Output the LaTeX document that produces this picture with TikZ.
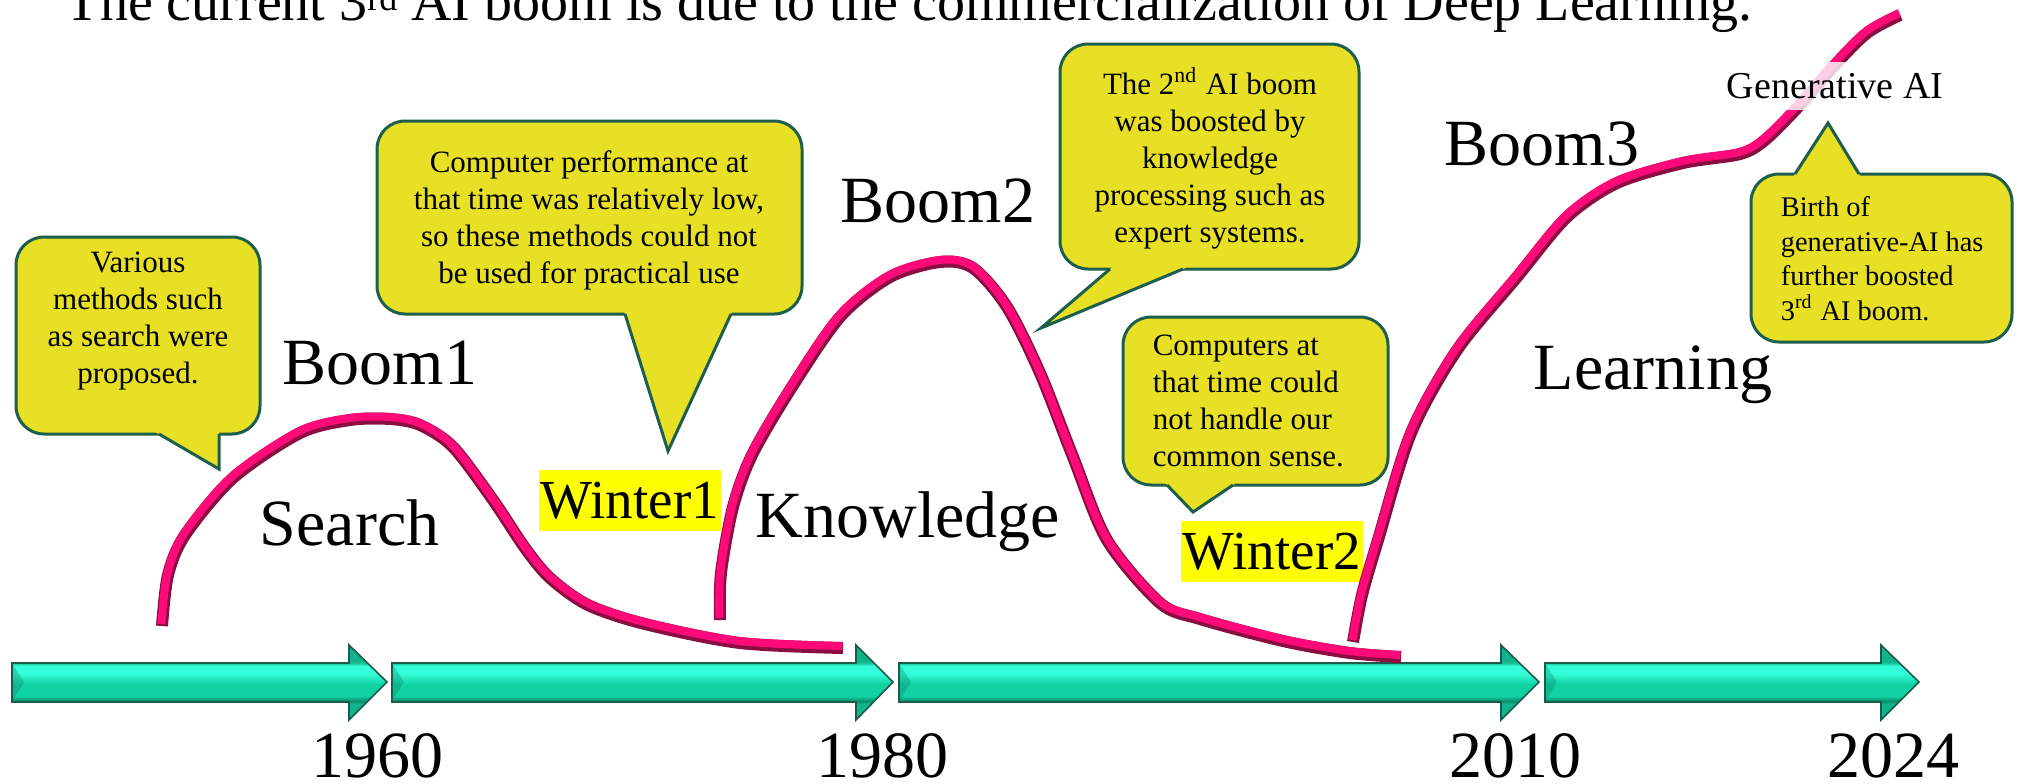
\documentclass[tikz,border=0pt]{standalone}
\usepackage{fontspec}
\setmainfont{Liberation Serif}
\definecolor{cfillc}{HTML}{E8E024}
\definecolor{cedgec}{HTML}{1E5E4C}
\definecolor{pinkm}{HTML}{FF0A78}
\definecolor{pinkd}{HTML}{8A0E42}
\definecolor{arrD}{HTML}{0A8A6A}
\definecolor{arrB}{HTML}{10D2A3}
\definecolor{arrL}{HTML}{35FFDA}
\definecolor{arrT}{HTML}{17C49C}
\definecolor{arrO}{HTML}{0FB48B}
\definecolor{arredge}{HTML}{1D5A4A}
\definecolor{hl}{HTML}{FFFF00}
\pgfdeclareverticalshading{arrsh}{100bp}{color(0bp)=(arrO); color(36bp)=(arrO); color(37.5bp)=(arrD); color(41bp)=(arrB); color(49bp)=(arrB); color(56bp)=(arrL); color(61bp)=(arrL); color(63bp)=(arrT); color(64bp)=(arrO); color(100bp)=(arrO)}
\begin{document}
\begin{tikzpicture}[x=0.25pt,y=-0.25pt,
  cbox/.style={fill=cfillc, draw=cedgec, line width=0.75pt, rounded corners=7pt},
  ctail/.style={fill=cfillc},
  cedge/.style={draw=cedgec, line width=0.75pt, line join=miter},
  ctext/.style={inner sep=0, font=\fontsize{7.75}{9.25}\selectfont},
  ctextb/.style={inner sep=0, font=\fontsize{7.1}{8.6}\selectfont},
  big/.style={inner sep=0, anchor=base west, font=\fontsize{16.5}{19}\selectfont},
  wint/.style={anchor=base west, fill=hl, inner xsep=0.5pt, inner ysep=0, text height=12pt, text depth=3.25pt, font=\fontsize{13.75}{16}\selectfont},
  year/.style={anchor=base, inner sep=0, font=\fontsize{16.5}{19}\selectfont},
  tlarrow/.style={draw=arredge, line width=0.4pt, shade, shading=arrsh},
  bevel/.style={fill=arrD, fill opacity=0.35},
  tubeD/.style={draw=pinkd, line width=3pt},
  tubeL/.style={draw=pinkm, line width=2pt, yshift=0.5pt, xshift=-0.15pt},
]
\fill[white] (0,0) rectangle (2033,783);
\useasboundingbox (0,0) rectangle (2033,783);

% title
\node[anchor=base west, inner sep=0, font=\fontsize{14}{17}\selectfont] (title) at (65,20) {The current 3\raisebox{2.5pt}{\fontsize{9}{10}\selectfont rd} AI boom is due to the commercialization of Deep Learning.};

% timeline arrows
\path[tlarrow] (12,663) -- (349,663) -- (349,645) -- (387,682) -- (349,720) -- (349,702) -- (12,702) -- cycle;
\fill[bevel] (12.5,664) -- (24,682) -- (12.5,701) -- cycle;
\path[tlarrow] (392,663) -- (856,663) -- (856,645) -- (893,682) -- (856,720) -- (856,702) -- (392,702) -- cycle;
\fill[bevel] (392.5,664) -- (404,682) -- (392.5,701) -- cycle;
\path[tlarrow] (899,663) -- (1501,663) -- (1501,645) -- (1539,682) -- (1501,720) -- (1501,702) -- (899,702) -- cycle;
\fill[bevel] (899.5,664) -- (911,682) -- (899.5,701) -- cycle;
\path[tlarrow] (1545,663) -- (1881,663) -- (1881,645) -- (1919,682) -- (1881,720) -- (1881,702) -- (1545,702) -- cycle;
\fill[bevel] (1545.5,664) -- (1557,682) -- (1545.5,701) -- cycle;

% years
\node[year] (y1960) at (377,777) {1960};
\node[year] (y1980) at (882,777) {1980};
\node[year] (y2010) at (1515,777) {2010};
\node[year] (y2024) at (1893,777) {2024};

% big labels
\node[big] (boom1) at (282,384) {Boom1};
\node[big] (search) at (259,545) {Search};
\node[big] (boom2) at (840,222) {Boom2};
\node[big] (know) at (755,537) {Knowledge};
\node[big] (boom3) at (1444,165) {Boom3};
\node[big] (learn) at (1533,389) {Learning};
\node[wint] (w1) at (538,518) {Winter1};
\node[wint] (w2) at (1180,569) {Winter2};

% curves
\draw[tubeD] plot[smooth] coordinates {(162,626) (168,575) (185,535) (233,478) (300,433) (350,420) (390,419) (420,425) (453,447) (493,500) (525,548) (550,578) (588,605) (645,624) (740,643) (843,648)};
\draw[tubeL] plot[smooth] coordinates {(162,626) (168,575) (185,535) (233,478) (300,433) (350,420) (390,419) (420,425) (453,447) (493,500) (525,548) (550,578) (588,605) (645,624) (740,643) (843,648)};
\draw[tubeD] plot[smooth] coordinates {(720,620) (721,573) (733,507) (752,455) (790,390) (840,317) (890,277) (940,262) (973,268) (1007,307) (1040,373) (1073,457) (1107,540) (1160,603) (1200,619) (1283,641) (1350,653) (1401,657)};
\draw[tubeL] plot[smooth] coordinates {(720,620) (721,573) (733,507) (752,455) (790,390) (840,317) (890,277) (940,262) (973,268) (1007,307) (1040,373) (1073,457) (1107,540) (1160,603) (1200,619) (1283,641) (1350,653) (1401,657)};
\draw[tubeD] plot[smooth] coordinates {(1353,642) (1362,595) (1378,540) (1411,433) (1457,350) (1517,277) (1567,217) (1617,183) (1683,163) (1740,154) (1765,140) (1800,105) (1833,67) (1867,33) (1900,15)};
\draw[tubeL] plot[smooth] coordinates {(1353,642) (1362,595) (1378,540) (1411,433) (1457,350) (1517,277) (1567,217) (1617,183) (1683,163) (1740,154) (1765,140) (1800,105) (1833,67) (1867,33) (1900,15)};

\node[anchor=base west, inner xsep=2pt, inner ysep=0, text height=9pt, text depth=3pt, fill=white, fill opacity=0.8, text opacity=1, font=\fontsize{9.5}{11}\selectfont] (genai) at (1718,98) {Generative AI};

% callout 1
\path[cbox] (16,237) rectangle (260,434);
\fill[ctail] (145,426) -- (219,469) -- (219,426) -- cycle;
\draw[cedge] (159,434) -- (219,469) -- (219,434);
\node[ctext, anchor=north, align=center] (c1) at (138,246) {\strut Various\\methods such\\as search were\\proposed.};

% callout 2
\path[cbox] (377,121) rectangle (802,314);
\fill[ctail] (622.5,306) -- (668,451) -- (734.7,306) -- cycle;
\draw[cedge] (625,314) -- (668,451) -- (731,314);
\node[ctext, anchor=north, align=center] (c2) at (589,146) {\strut Computer performance at\\that time was relatively low,\\so these methods could not\\be used for practical use};

% callout 3
\path[cbox] (1060,44) rectangle (1359,269);
\fill[ctail] (1119.4,261) -- (1041,328) -- (1202.3,261) -- cycle;
\draw[cedge] (1110,269) -- (1041,328) -- (1183,269);
\node[ctext, anchor=north, align=center] (c3) at (1210,67) {\strut The 2\textsuperscript{nd} AI boom\\was boosted by\\knowledge\\processing such as\\expert systems.};

% callout 4
\path[cbox] (1123,317) rectangle (1388,485);
\fill[ctail] (1159.3,477) -- (1193,512) -- (1244.9,477) -- cycle;
\draw[cedge] (1167,485) -- (1193,512) -- (1233,485);
\node[ctext, anchor=north west, align=left] (c4) at (1152,329) {\strut Computers at\\that time could\\not handle our\\common sense.};

% callout 5
\path[cbox] (1751,174) rectangle (2012,342);
\fill[ctail] (1789.8,182) -- (1828,123) -- (1863.9,182) -- cycle;
\draw[cedge] (1795,174) -- (1828,123) -- (1859,174);
\node[ctextb, anchor=north west, align=left] (c5) at (1780,192) {\strut Birth of\\generative-AI has\\further boosted\\3\textsuperscript{rd} AI boom.};
\end{tikzpicture}
\end{document}
